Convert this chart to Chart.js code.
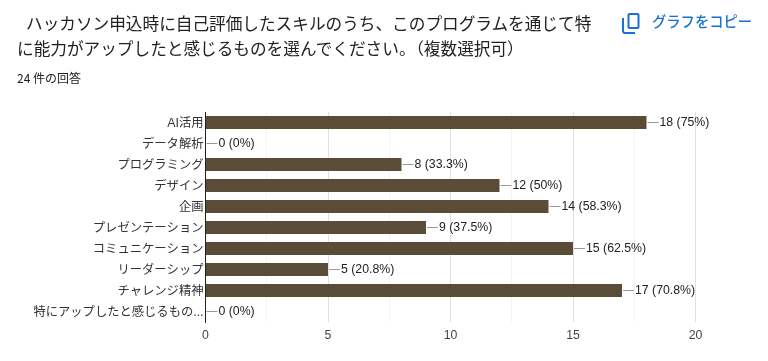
<!DOCTYPE html>
<html lang="ja">
<head>
<meta charset="utf-8">
<title>スキルアップ</title>
<script src="https://cdn.jsdelivr.net/npm/chart.js@4"></script>
<style>
  html, body { margin: 0; padding: 0; background: #fff; }
  #page { position: relative; width: 768px; height: 361px; overflow: hidden; font-family: "Noto Sans CJK JP", sans-serif; }
  #chartBox { position: absolute; left: 0; top: 0; width: 768px; height: 361px; }
  #title { position: absolute; left: 17px; top: 11px; width: 585px; margin: 0; font-size: 16.65px; font-weight: 400; line-height: 25px; color: #202124; text-indent: 9px; }
  #count { position: absolute; left: 17px; top: 69px; font-size: 12px; line-height: 18px; color: #202124; }
  #copyIcon { position: absolute; left: 618px; top: 10px; }
  #copyText { position: absolute; left: 652px; top: 11px; font-size: 14.3px; line-height: 20px; font-weight: 500; color: #1a6fd8; }
</style>
</head>
<body>
<div id="page">
  <div id="chartBox"><canvas id="skillChart"></canvas></div>
  <h1 id="title">ハッカソン申込時に自己評価したスキルのうち、このプログラムを通じて特に能力がアップしたと感じるものを選んでください。（複数選択可）</h1>
  <div id="count">24 件の回答</div>
  <svg id="copyIcon" width="24" height="26" viewBox="0 0 24 26" fill="none" stroke="#1a6fd8" stroke-width="2">
    <rect x="10.5" y="4" width="10" height="14" rx="1"></rect>
    <path d="M5 8v13a2 2 0 0 0 2 2h10"></path>
  </svg>
  <div id="copyText">グラフをコピー</div>
</div>
<script>
const categories = ['AI活用', 'データ解析', 'プログラミング', 'デザイン', '企画', 'プレゼンテーション', 'コミュニケーション', 'リーダーシップ', 'チャレンジ精神', '特にアップしたと感じるもの...'];
const counts = [18, 0, 8, 12, 14, 9, 15, 5, 17, 0];
const percents = ['75%', '0%', '33.3%', '50%', '58.3%', '37.5%', '62.5%', '20.8%', '70.8%', '0%'];
const xTicks = [0, 5, 10, 15, 20];

const labelFont = '12.3px "Liberation Sans", "Noto Sans CJK JP", sans-serif';

// leader line + "18 (75%)" next to each bar
const barLabels = {
  id: 'barLabels',
  afterDatasetsDraw(chart) {
    const ctx = chart.ctx;
    const xScale = chart.scales.x;
    const yScale = chart.scales.y;
    ctx.save();
    ctx.font = labelFont;
    ctx.textBaseline = 'middle';
    counts.forEach((value, i) => {
      const x = xScale.getPixelForValue(value);
      const y = yScale.getPixelForValue(i);
      ctx.strokeStyle = '#999';
      ctx.lineWidth = 1;
      ctx.beginPath();
      ctx.moveTo(x + 1, Math.floor(y) + 0.5);
      ctx.lineTo(x + 12, Math.floor(y) + 0.5);
      ctx.stroke();
      ctx.fillStyle = '#222';
      ctx.fillText(value + ' (' + percents[i] + ')', x + 13, y);
    });
    ctx.restore();
  }
};

new Chart(document.getElementById('skillChart'), {
  type: 'bar',
  data: {
    labels: categories,
    datasets: [{
      data: counts,
      backgroundColor: '#5a4c37',
      categoryPercentage: 1,
      barPercentage: 0.62
    }]
  },
  plugins: [barLabels],
  options: {
    indexAxis: 'y',
    responsive: true,
    maintainAspectRatio: false,
    animation: false,
    layout: { padding: { top: 112, right: 72.5, bottom: 0, left: 0 } },
    plugins: { legend: { display: false }, tooltip: { enabled: false } },
    scales: {
      x: {
        min: 0,
        max: 20,
        afterFit(scale) { scale.height = 39; },
        afterBuildTicks(scale) {
          // minor gridlines sit halfway between the labelled ticks
          const ticks = [];
          xTicks.forEach((v, i) => {
            ticks.push({ value: v });
            if (i < xTicks.length - 1) ticks.push({ value: v + 2.5 });
          });
          scale.ticks = ticks;
        },
        grid: {
          drawTicks: false,
          color: c => xTicks.includes(c.tick.value) ? '#e0e0e0' : '#f3f3f3'
        },
        border: { display: false },
        ticks: {
          autoSkip: false,
          maxRotation: 0,
          padding: 6,
          color: '#444',
          font: { family: '"Liberation Sans", sans-serif', size: 12.3 },
          callback: v => xTicks.includes(v) ? String(v) : ''
        }
      },
      y: {
        afterFit(scale) { scale.width = 205.5; },
        grid: { display: false, drawTicks: false },
        border: { display: true, color: '#222', width: 1 },
        ticks: {
          autoSkip: false,
          padding: 2,
          labelOffset: 1,
          color: '#333',
          font: { family: '"Liberation Sans", "Noto Sans CJK JP", sans-serif', size: 12.3 }
        }
      }
    }
  }
});
</script>
</body>
</html>
